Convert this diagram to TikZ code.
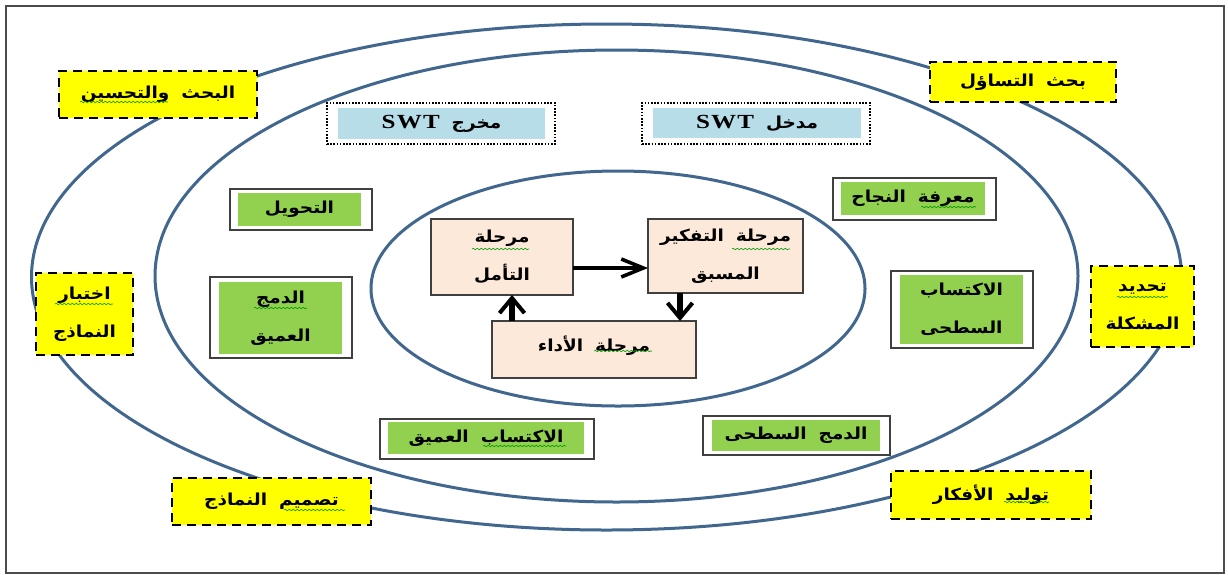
\documentclass[tikz,border=0pt]{standalone}
\usepackage{fontspec}
\usetikzlibrary{arrows.meta,decorations.pathmorphing}
\TeXXeTstate=1
\newfontfamily\arabicfont[Script=Arabic,FakeStretch=1.12]{DejaVu Sans}
\newfontfamily\latfont[FakeStretch=1.25,LetterSpace=6]{Liberation Serif}
\newcommand{\ar}[1]{\beginR #1\endR}
\newcommand{\dn}[2]{\raisebox{-#1pt}{\ar{#2}}}
\newcommand{\gp}{\hspace{12pt}}
\newcommand{\swt}{\beginL{\latfont\bfseries\fontsize{20}{38}\selectfont SWT}\endL}
\definecolor{ringblue}{HTML}{41678F}
\definecolor{ygold}{HTML}{FFFF00}
\definecolor{grn}{HTML}{92D050}
\definecolor{lblue}{HTML}{B6DDE8}
\definecolor{peach}{HTML}{FDE9D9}
\tikzset{
  ring/.style={draw=ringblue,line width=3pt},
  base/.style={inner sep=0pt,outer sep=0pt,align=center,text=black,font=\arabicfont\bfseries\fontsize{16.5}{38}\selectfont},
  ybox/.style={base,draw=black,fill=ygold,line width=2.2pt,dash pattern=on 9pt off 6pt},
  frameg/.style={base,draw=black!75,fill=white,line width=1.3pt},
  fillg/.style={base,fill=grn},
  framed/.style={base,draw=black,fill=white,line width=1.5pt,dash pattern=on 1.6pt off 1.6pt},
  fillb/.style={base,fill=lblue},
  pbox/.style={base,draw=black!75,fill=peach,line width=1.2pt},
  arrh/.style={draw=black,line width=4pt,-{Straight Barb[length=22pt,width=18pt,line width=3.6pt]}},
  arrv/.style={draw=black,line width=5.5pt,-{Straight Barb[length=15pt,width=25pt,line width=4pt]}},
  squig/.style={draw=green!60!black,line width=.6pt,decorate,decoration={snake,amplitude=.7pt,segment length=4pt}},
}
\newcommand{\bx}[7]{\node[#2,minimum width={(#5-#3)*1pt},minimum height={(#6-#4)*1pt}] (#1) at ({(#3+#5)/2},{(#4+#6)/2}) {#7};}
\begin{document}
\begin{tikzpicture}[x=1pt,y=-1pt]
\useasboundingbox (0,0) rectangle (1228,574);
\fill[white] (0,0) rectangle (1228,574);
\draw[black!70,line width=1.5pt] (6,6) rectangle (1224,573);
\draw[ring] (606.5,277) ellipse [x radius=575,y radius=253];
\draw[ring] (616.5,276) ellipse [x radius=461.5,y radius=226];
\draw[ring] (618,288.5) ellipse [x radius=247,y radius=117.5];
% yellow
\bx{y1}{ybox}{59}{71}{257}{118}{\ar{البحث\gp والتحسين}}
\bx{y2}{ybox}{930}{62}{1116}{102}{\dn{1}{بحث\gp التساؤل}}
\bx{y3}{ybox}{1091}{266}{1194}{347}{\dn{2}{تحديد}\\\dn{2}{المشكلة}}
\bx{y4}{ybox}{36}{273}{133}{355}{\dn{3}{اختبار}\\\dn{3}{النماذج}}
\bx{y5}{ybox}{172}{478}{371}{525}{\dn{1}{تصميم\gp النماذج}}
\bx{y6}{ybox}{891}{471}{1091}{519}{\ar{توليد\gp الأفكار}}
% blue
\bx{b1o}{framed}{327}{103}{555}{144}{}
\bx{b1}{fillb}{338}{108}{545}{139}{\ar{مخرج\gp\swt}}
\bx{b2o}{framed}{642}{103}{870}{144}{}
\bx{b2}{fillb}{653}{108}{861}{138}{\ar{مدخل\gp\swt}}
% green
\bx{g1o}{frameg}{230}{189}{372}{230}{}
\bx{g1}{fillg}{238}{193}{361}{226}{\dn{1}{التحويل}}
\bx{g2o}{frameg}{210}{277}{352}{358}{}
\bx{g2}{fillg}{219}{282}{342}{354}{\dn{1}{الدمج}\\\dn{1}{العميق}}
\bx{g3o}{frameg}{833}{178}{996}{220}{}
\bx{g3}{fillg}{841}{182}{985}{215}{\dn{1}{معرفة\gp النجاح}}
\bx{g4o}{frameg}{891}{271}{1033}{348}{}
\bx{g4}{fillg}{900}{275}{1023}{344}{\dn{3}{الاكتساب}\\\dn{3}{السطحى}}
\bx{g5o}{frameg}{380}{419}{594}{459}{}
\bx{g5}{fillg}{388}{422}{584}{454}{\dn{1}{الاكتساب\gp العميق}}
\bx{g6o}{frameg}{703}{416}{890}{455}{}
\bx{g6}{fillg}{712}{420}{880}{451}{\ar{الدمج\gp السطحى}}
% peach
\bx{ta}{pbox}{431}{219}{573}{295}{\dn{4}{مرحلة}\\\dn{4}{التأمل}}
\bx{th}{pbox}{648}{219}{803}{293}{\dn{5}{مرحلة\gp التفكير}\\\dn{5}{المسبق}}
\bx{ad}{pbox}{492}{321}{696}{378}{\raisebox{12pt}{\ar{مرحلة\gp الأداء}}}
% arrows
\draw[arrh] ([yshift=-11pt]ta.east) -- ([yshift=-12pt]th.west);
\draw[arrv] ([xshift=-45.5pt]th.south) -- ([xshift=86pt]ad.north);
\draw[arrv] ([xshift=-82pt]ad.north) -- ([xshift=10pt]ta.south);
% spell-check squiggles
\draw[squig] (80,102) -- (168,102);
\draw[squig] (472,249) -- (529,249);
\draw[squig] (732,249) -- (790,249);
\draw[squig] (594,351) -- (652,351);
\draw[squig] (1117,297) -- (1168,297);
\draw[squig] (55,304) -- (113,304);
\draw[squig] (254,308) -- (307,308);
\draw[squig] (284,510) -- (345,510);
\draw[squig] (483,446) -- (566,446);
\draw[squig] (1004,502) -- (1049,502);
\draw[squig] (921,207) -- (976,207);
\end{tikzpicture}
\end{document}
